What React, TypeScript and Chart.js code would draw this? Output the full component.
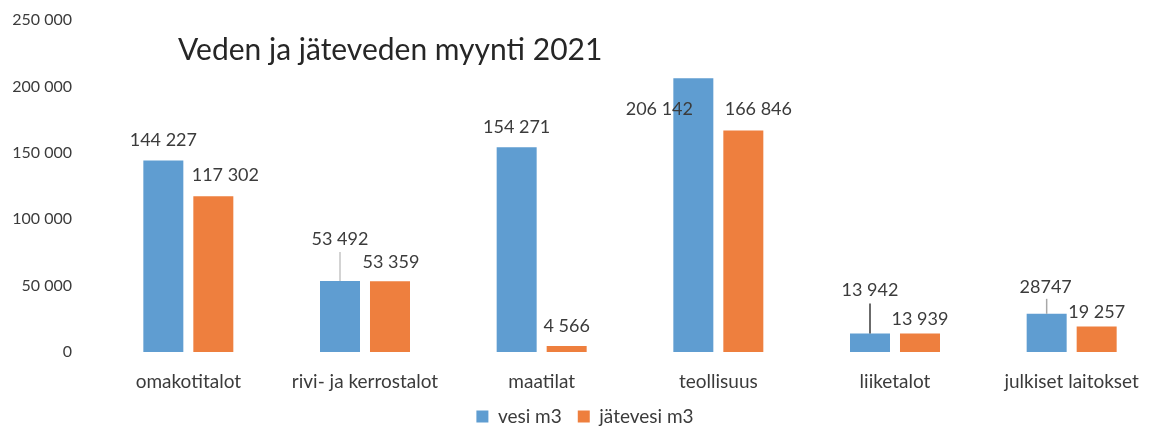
import React, { useEffect, useRef } from 'react';
import { Chart, registerables } from 'chart.js';

Chart.register(...registerables);

// ---- data ----
const categories = [
  'omakotitalot',
  'rivi- ja kerrostalot',
  'maatilat',
  'teollisuus',
  'liiketalot',
  'julkiset laitokset',
];
const vesiM3 = [144227, 53492, 154271, 206142, 13942, 28747];
const jatevesiM3 = [117302, 53359, 4566, 166846, 13939, 19257];
const vesiLabels = ['144 227', '53 492', '154 271', '206 142', '13 942', '28747'];
const jatevesiLabels = ['117 302', '53 359', '4 566', '166 846', '13 939', '19 257'];
const seriesNames = ['vesi m3', 'jätevesi m3'];
const chartTitle = 'Veden ja jäteveden myynti 2021';
const yMin = 0;
const yMax = 250000;
const yStep = 50000;

// ---- label placement (manual nudges, px relative to bar top) ----
const vesiNudge = [
  { dx: 0, lift: 14, leader: 0, leaderColor: '' },
  { dx: 0, lift: 36, leader: 29, leaderColor: '#c4c4c4' },
  { dx: 0, lift: 14, leader: 0, leaderColor: '' },
  { dx: -34, lift: -37, leader: 0, leaderColor: '' },
  { dx: 0, lift: 37, leader: 30, leaderColor: '#3a3a3a' },
  { dx: -1, lift: 21, leader: 15, leaderColor: '#a8a8a8' },
];
const jatevesiNudge = [
  { dx: 12, lift: 15, leader: 0, leaderColor: '' },
  { dx: 1, lift: 13, leader: 0, leaderColor: '' },
  { dx: 0, lift: 14, leader: 0, leaderColor: '' },
  { dx: 15, lift: 15, leader: 0, leaderColor: '' },
  { dx: 0, lift: 8, leader: 0, leaderColor: '' },
  { dx: 0, lift: 8, leader: 0, leaderColor: '' },
];

const BLUE = '#5F9DD1';
const ORANGE = '#EE7F3E';
const TEXT = '#3b3b3b';
const FONT = 'Lato, "Open Sans", sans-serif';

const fmt = (v: number) => String(v).replace(/\B(?=(\d{3})+(?!\d))/g, ' ');

const titlePlugin = {
  id: 'innerTitle',
  afterDraw(chart: any) {
    const { ctx, chartArea } = chart;
    ctx.save();
    ctx.font = `30px ${FONT}`;
    ctx.fillStyle = '#262626';
    ctx.textAlign = 'left';
    ctx.textBaseline = 'alphabetic';
    ctx.fillText(chartTitle, chartArea.left + 78, 60);
    ctx.restore();
  },
};

const valueLabelPlugin = {
  id: 'valueLabels',
  afterDatasetsDraw(chart: any) {
    const { ctx } = chart;
    const texts = [vesiLabels, jatevesiLabels];
    const nudges = [vesiNudge, jatevesiNudge];
    ctx.save();
    chart.data.datasets.forEach((_: any, di: number) => {
      const meta = chart.getDatasetMeta(di);
      meta.data.forEach((bar: any, i: number) => {
        const n = nudges[di][i];
        if (n.leader > 0) {
          ctx.strokeStyle = n.leaderColor;
          ctx.lineWidth = 1.5;
          ctx.beginPath();
          ctx.moveTo(bar.x, bar.y);
          ctx.lineTo(bar.x, bar.y - n.leader);
          ctx.stroke();
        }
        ctx.font = `18px ${FONT}`;
        ctx.fillStyle = TEXT;
        ctx.textAlign = 'center';
        ctx.textBaseline = 'alphabetic';
        ctx.fillText(texts[di][i], bar.x + n.dx, bar.y - n.lift);
      });
    });
    ctx.restore();
  },
};

export default function App() {
  const ref = useRef<HTMLCanvasElement | null>(null);
  useEffect(() => {
    if (!ref.current) return;
    const chart = new Chart(ref.current, {
      type: 'bar',
      data: {
        labels: categories,
        datasets: [
          {
            label: seriesNames[0],
            data: vesiM3,
            backgroundColor: BLUE,
            borderWidth: 0,
            barPercentage: 0.8,
            categoryPercentage: 0.566,
          },
          {
            label: seriesNames[1],
            data: jatevesiM3,
            backgroundColor: ORANGE,
            borderWidth: 0,
            barPercentage: 0.8,
            categoryPercentage: 0.566,
          },
        ],
      },
      options: {
        responsive: false,
        animation: false,
        devicePixelRatio: 1,
        layout: { padding: { left: 10, right: 0, top: 20, bottom: -3 } },
        plugins: {
          title: { display: false },
          tooltip: { enabled: false },
          legend: {
            display: true,
            position: 'bottom',
            labels: {
              boxWidth: 12,
              boxHeight: 12,
              padding: 16,
              color: TEXT,
              font: { family: FONT, size: 19 },
            },
          },
        },
        scales: {
          x: {
            grid: { display: false, drawTicks: false },
            border: { display: false },
            afterFit(scale: any) {
              scale.height = 39;
            },
            ticks: {
              color: TEXT,
              padding: 18,
              font: { family: FONT, size: 19 },
              maxRotation: 0,
              autoSkip: false,
            },
          },
          y: {
            min: yMin,
            max: yMax,
            grid: { display: false, drawTicks: false },
            border: { display: false },
            afterFit(scale: any) {
              scale.width = 90;
              scale.paddingTop = 0;
              scale.paddingBottom = 0;
            },
            ticks: {
              stepSize: yStep,
              color: TEXT,
              padding: 28,
              font: { family: FONT, size: 16 },
              callback: (v: any) => fmt(Number(v)),
            },
          },
        },
      },
      plugins: [valueLabelPlugin, titlePlugin],
    });
    return () => chart.destroy();
  }, []);
  return (
    <div
      style={{
        position: 'absolute',
        left: 0,
        top: 0,
        width: 1150,
        height: 433,
        overflow: 'hidden',
        background: '#fff',
      }}
    >
      <canvas ref={ref} width={1160} height={433} style={{ width: 1160, height: 433, display: 'block' }} />
    </div>
  );
}
